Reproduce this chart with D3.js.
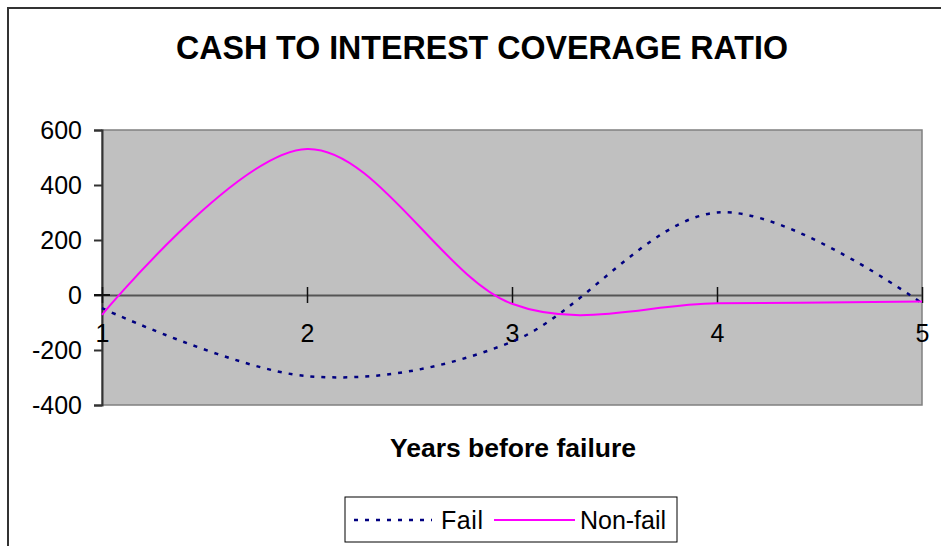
<!DOCTYPE html>
<html><head><meta charset="utf-8">
<script src="https://cdn.jsdelivr.net/npm/d3@7"></script>
<style>body{margin:0;background:#fff}svg{display:block}text{font-family:"Liberation Sans",Arial,sans-serif}</style>
</head><body>
<script>
const years = [1, 2, 3, 4, 5];
const failValues = [-48, -295, -170, 300, -30];
const nonFailValues = [-72, 531, -32, -30, -24];
const yTicks = [-400, -200, 0, 200, 400, 600];
const seriesNames = ["Fail", "Non-fail"];
const titleText = "CASH TO INTEREST COVERAGE RATIO";
const xTitle = "Years before failure";

const W = 941, H = 546;
const svg = d3.select("body").append("svg").attr("width", W).attr("height", H);

// chart border
svg.append("rect").attr("x", 8).attr("y", 8).attr("width", W + 10).attr("height", H + 10)
  .attr("fill", "#fff").attr("stroke", "#333").attr("stroke-width", 2);

const x = d3.scaleLinear().domain([1, 5]).range([102, 922]);
const y = d3.scaleLinear().domain([-400, 600]).range([405, 130]);

// plot area
svg.append("rect").attr("x", x(1)).attr("y", y(600)).attr("width", x(5) - x(1)).attr("height", y(-400) - y(600))
  .attr("fill", "#C0C0C0").attr("stroke", "#808080").attr("stroke-width", 1.5);

// title
svg.append("text").attr("x", 482).attr("y", 59).attr("text-anchor", "middle")
  .attr("font-size", 33).attr("font-weight", "bold").attr("textLength", 612).attr("lengthAdjust", "spacingAndGlyphs")
  .text(titleText);

// y axis
const yAxis = d3.axisLeft(y).tickValues(yTicks).tickSize(8).tickPadding(12).tickFormat(d => String(d));
const gy = svg.append("g").attr("transform", `translate(${x(1)},0)`).call(yAxis);
gy.select(".domain").attr("stroke", "#333").attr("stroke-width", 2);
gy.selectAll(".tick line").attr("stroke", "#333").attr("stroke-width", 2);
gy.selectAll(".tick text").attr("font-size", 25).attr("fill", "#000").attr("font-family", "Liberation Sans, Arial, sans-serif");

// x axis at zero (cross ticks)
const xAxis = d3.axisBottom(x).tickValues(years).tickSize(8).tickSizeOuter(0).tickFormat(d => String(d));
const gx = svg.append("g").attr("transform", `translate(0,${y(0)})`).call(xAxis);
gx.select(".domain").attr("stroke", "#555").attr("stroke-width", 2);
gx.selectAll(".tick line").attr("y1", -8).attr("y2", 8).attr("stroke", "#111").attr("stroke-width", 1.5);
gx.selectAll(".tick text").attr("font-size", 25).attr("fill", "#000").attr("y", 29)
  .attr("font-family", "Liberation Sans, Arial, sans-serif");
// short horizontal cross tick at y axis / zero
svg.append("line").attr("x1", x(1) - 8).attr("x2", x(1) + 8).attr("y1", y(0)).attr("y2", y(0))
  .attr("stroke", "#111").attr("stroke-width", 2);

// lines
const line = d3.line().x((d, i) => x(years[i])).y(d => y(d)).curve(d3.curveCardinal.tension(0));
svg.append("path").datum(failValues).attr("d", line).attr("fill", "none")
  .attr("stroke", "#000080").attr("stroke-width", 2.5).attr("stroke-dasharray", "4,7");
svg.append("path").datum(nonFailValues).attr("d", line).attr("fill", "none")
  .attr("stroke", "#FF00FF").attr("stroke-width", 2);

// x title
svg.append("text").attr("x", 513).attr("y", 457).attr("text-anchor", "middle")
  .attr("font-size", 25).attr("font-weight", "bold").attr("textLength", 246).attr("lengthAdjust", "spacingAndGlyphs")
  .text(xTitle);

// legend
const lg = svg.append("g");
lg.append("rect").attr("x", 345).attr("y", 497).attr("width", 332).attr("height", 45)
  .attr("fill", "#fff").attr("stroke", "#000").attr("stroke-width", 1);
lg.append("line").attr("x1", 354).attr("x2", 432).attr("y1", 520).attr("y2", 520)
  .attr("stroke", "#000080").attr("stroke-width", 2.5).attr("stroke-dasharray", "4,7");
lg.append("text").attr("x", 441).attr("y", 529).attr("font-size", 25).attr("textLength", 42).text(seriesNames[0]);
lg.append("line").attr("x1", 494).attr("x2", 575).attr("y1", 520).attr("y2", 520)
  .attr("stroke", "#FF00FF").attr("stroke-width", 2);
lg.append("text").attr("x", 580).attr("y", 529).attr("font-size", 25).attr("textLength", 86).text(seriesNames[1]);
</script>
</body></html>
